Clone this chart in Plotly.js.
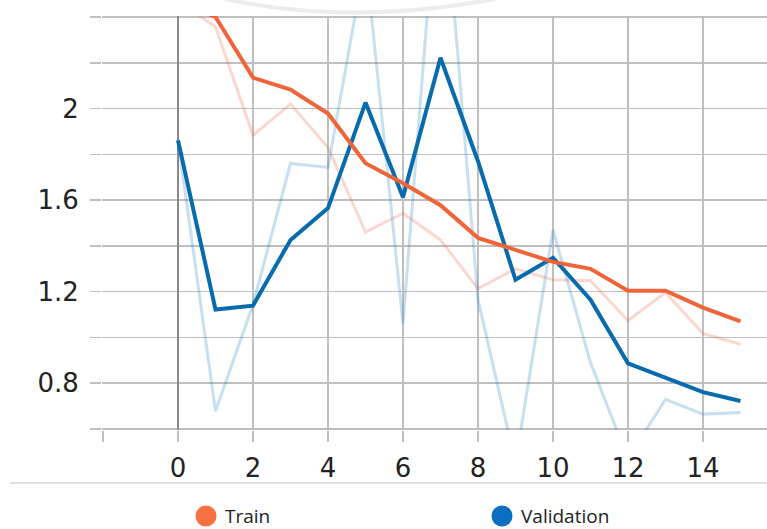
<!DOCTYPE html>
<html>
<head>
<meta charset="utf-8">
<script src="https://cdn.plot.ly/plotly-3.0.1.min.js"></script>
<style>
  html, body { margin: 0; padding: 0; background: #fff; }
  #chart { width: 767px; height: 529px; }
</style>
</head>
<body>
<div id="chart"></div>
<script>
// Training curves: raw values per step plus their smoothed versions
const steps = [0, 1, 2, 3, 4, 5, 6, 7, 8, 9, 10, 11, 12, 13, 14, 15];

const trainRaw      = [2.47, 2.357, 1.883, 2.02, 1.83, 1.46, 1.543, 1.426, 1.213, 1.30, 1.252, 1.248, 1.074, 1.196, 1.017, 0.970];
const trainSmoothed = [2.47, 2.40, 2.135, 2.083, 1.978, 1.761, 1.674, 1.578, 1.435, 1.383, 1.330, 1.30, 1.204, 1.204, 1.130, 1.070];

const valRaw      = [1.861, 0.678, 1.143, 1.76, 1.743, 2.66, 1.06, 3.15, 1.165, 0.45, 1.47, 0.89, 0.47, 0.73, 0.665, 0.672];
const valSmoothed = [1.861, 1.122, 1.139, 1.426, 1.565, 2.026, 1.613, 2.222, 1.77, 1.252, 1.348, 1.165, 0.887, 0.826, 0.761, 0.722];

const seriesNames = ['Train', 'Validation'];

const xTickVals = [-2, 0, 2, 4, 6, 8, 10, 12, 14];
const xTickText = ['', '0', '2', '4', '6', '8', '10', '12', '14'];
const yTickVals = [0.6, 0.8, 1.0, 1.2, 1.4, 1.6, 1.8, 2.0, 2.2, 2.4];
const yTickText = ['', '0.8', '', '1.2', '', '1.6', '', '2', '', ''];

// Styling
const ORANGE = '#f0643a';
const BLUE = '#086bae';
const ORANGE_FADED = 'rgba(240,100,58,0.25)';
const BLUE_FADED = 'rgba(30,130,195,0.25)';
const LEGEND_ORANGE = '#f5713f';
const LEGEND_BLUE = '#0a6fbf';
const GRID = '#bfbfbf';

// Frame geometry (pixels)
const W = 767, H = 529;
const M = { l: 102, r: 0, t: 16, b: 99 };
const plotW = W - M.l - M.r;
const plotH = H - M.t - M.b;
const px = x => (x - M.l) / plotW;
const py = y => (H - M.b - y) / plotH;

const traces = [
  { x: steps, y: trainRaw, mode: 'lines', line: { color: ORANGE_FADED, width: 3 }, showlegend: false, hoverinfo: 'skip' },
  { x: steps, y: valRaw, mode: 'lines', line: { color: BLUE_FADED, width: 3 }, showlegend: false, hoverinfo: 'skip' },
  { x: steps, y: valSmoothed, name: seriesNames[1], mode: 'lines', line: { color: BLUE, width: 4 }, showlegend: false },
  { x: steps, y: trainSmoothed, name: seriesNames[0], mode: 'lines', line: { color: ORANGE, width: 4 }, showlegend: false }
];

const legendItems = [
  { name: seriesNames[0], color: LEGEND_ORANGE, cx: 206 },
  { name: seriesNames[1], color: LEGEND_BLUE, cx: 502 }
];
const legendY = 516;
const R = 10.5;

const shapes = [
  // faint arc above the plot
  {
    type: 'path', xref: 'paper', yref: 'paper', layer: 'below',
    path: `M${px(225)},${py(-1)} Q${px(350)},${py(26)} ${px(495)},${py(-1)}`,
    line: { color: '#ececec', width: 4 }
  },
  // separator between plot and legend
  {
    type: 'line', xref: 'paper', yref: 'paper',
    x0: px(10), x1: px(767), y0: py(483), y1: py(483),
    line: { color: '#d6d6d6', width: 1.5 }
  }
];
legendItems.forEach(it => {
  shapes.push({
    type: 'circle', xref: 'paper', yref: 'paper',
    x0: px(it.cx - R), x1: px(it.cx + R), y0: py(legendY + R), y1: py(legendY - R),
    fillcolor: it.color, line: { width: 0 }
  });
});

const annotations = legendItems.map(it => ({
  xref: 'paper', yref: 'paper',
  x: px(it.cx + 17), y: py(legendY),
  xanchor: 'left', yanchor: 'middle',
  text: it.name, showarrow: false,
  font: { family: 'Open Sans', size: 19, color: '#222' }
}));

const layout = {
  width: W, height: H,
  margin: M,
  paper_bgcolor: '#fff', plot_bgcolor: '#fff',
  font: { family: 'DejaVu Sans', color: '#222' },
  showlegend: false,
  hovermode: false,
  xaxis: {
    range: [-2.0267, 15.707],
    tickmode: 'array', tickvals: xTickVals, ticktext: xTickText,
    showgrid: true, gridcolor: GRID, gridwidth: 1.6,
    ticks: 'outside', ticklen: 11, tickcolor: GRID, tickwidth: 1.6,
    ticklabelstandoff: 4,
    zeroline: true, zerolinecolor: '#8a8a8a', zerolinewidth: 2.6,
    showline: false,
    tickfont: { family: 'DejaVu Sans', size: 26, color: '#222' }
  },
  yaxis: {
    range: [0.5956, 2.4044],
    tickmode: 'array', tickvals: yTickVals, ticktext: yTickText,
    showgrid: true, gridcolor: GRID, gridwidth: 1.6,
    ticks: 'outside', ticklen: 11, tickcolor: GRID, tickwidth: 1.6,
    ticklabelstandoff: 6,
    zeroline: false, showline: false,
    tickfont: { family: 'DejaVu Sans', size: 26, color: '#222' }
  },
  shapes: shapes,
  annotations: annotations
};

Plotly.newPlot('chart', traces, layout, { displayModeBar: false, staticPlot: true });
</script>
</body>
</html>
